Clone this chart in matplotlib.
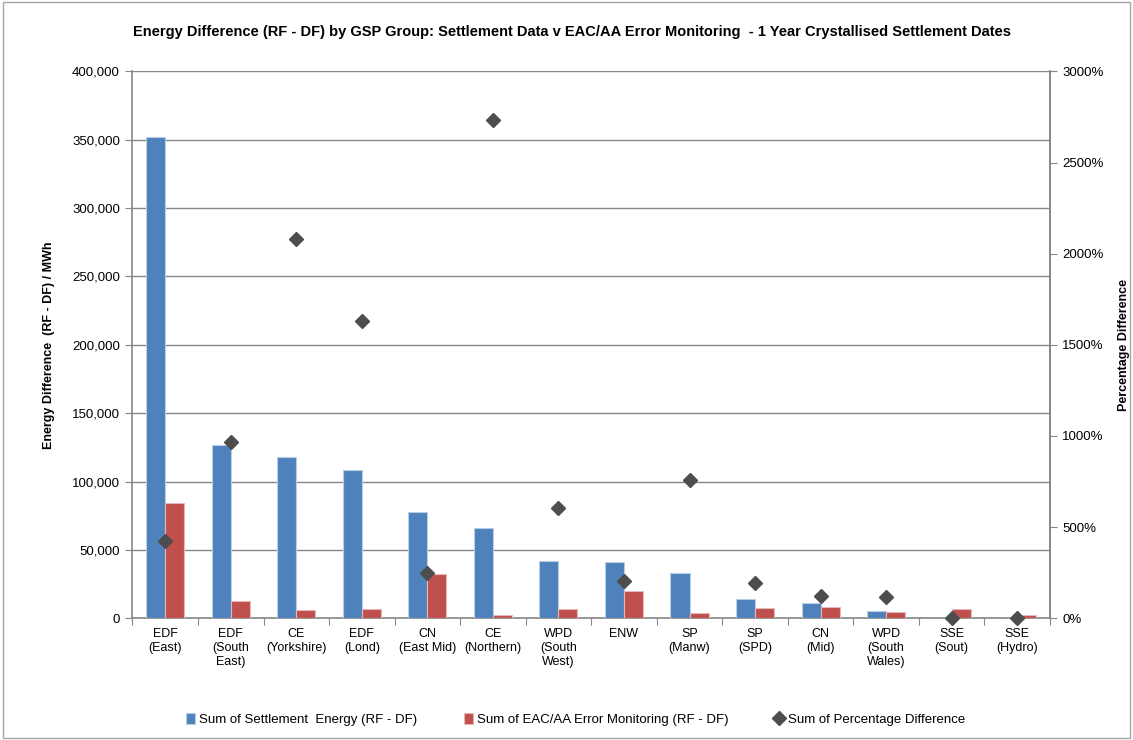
import matplotlib
matplotlib.use("Agg")
from matplotlib import pyplot as plt
from matplotlib.ticker import FuncFormatter, FixedLocator
from matplotlib.patches import Rectangle
import numpy as np

# 数据
groups = ["EDF\n(East)", "EDF\n(South\nEast)", "CE\n(Yorkshire)", "EDF\n(Lond)",
          "CN\n(East Mid)", "CE\n(Northern)", "WPD\n(South\nWest)", "ENW",
          "SP\n(Manw)", "SP\n(SPD)", "CN\n(Mid)", "WPD\n(South\nWales)",
          "SSE\n(Sout)", "SSE\n(Hydro)"]
settlement = [352000, 126500, 118000, 108700, 77500, 65800, 42200, 41200,
              32900, 14100, 11000, 5100, 0, 0]
eac_aa = [84300, 12700, 5900, 6600, 32200, 2400, 6600, 20300,
          4200, 7300, 8300, 4400, 6600, 2200]
pct_diff = [422, 967, 2079, 1629, 247, 2731, 605, 203, 759, 192, 122, 117, 0, 0]

plt.rcParams['font.family'] = ['Liberation Sans', 'DejaVu Sans']

fig = plt.figure(figsize=(11.33, 7.4), dpi=100)
fig.patches.append(Rectangle((0.003, 0.003), 0.994, 0.994, transform=fig.transFigure,
                             fill=False, edgecolor='#a6a6a6', linewidth=1))
ax = fig.add_axes([0.1169, 0.1645, 0.8098, 0.7390])

grid_c = '#868686'
xs = np.arange(len(groups))
w = 0.29
ax.bar(xs - w / 2, settlement, w, color='#4F81BD', edgecolor='#b9cde5', linewidth=0.8,
       label='Sum of Settlement  Energy (RF - DF)', zorder=3)
ax.bar(xs + w / 2, eac_aa, w, color='#C0504D', edgecolor='#e6b9b8', linewidth=0.8,
       label='Sum of EAC/AA Error Monitoring (RF - DF)', zorder=3)

ax.set_xlim(-0.5, len(groups) - 0.5)
ax.set_ylim(0, 400000)
ax.set_yticks(range(0, 400001, 50000))
ax.yaxis.set_major_formatter(FuncFormatter(lambda v, p: '{:,.0f}'.format(v)))
ax.grid(axis='y', color=grid_c, linewidth=1, zorder=0)
ax.set_axisbelow(True)

# x轴：刻度在类别之间，标签在中间
ax.xaxis.set_major_locator(FixedLocator(np.arange(-0.5, len(groups), 1)))
ax.xaxis.set_major_formatter(FuncFormatter(lambda v, p: ''))
ax.set_xticks(xs, groups, minor=True)
ax.tick_params(axis='x', which='major', direction='out', length=5, color=grid_c)
ax.tick_params(axis='x', which='minor', length=0, pad=7, labelsize=9)
ax.tick_params(axis='y', direction='out', length=5, color=grid_c, labelsize=9.5, pad=4)

ax.spines['top'].set_visible(False)
for s in ['left', 'bottom', 'right']:
    ax.spines[s].set_color(grid_c)
    ax.spines[s].set_linewidth(1.2)

ax.set_ylabel("Energy Difference  (RF - DF) / MWh", fontsize=9, fontweight='bold', labelpad=12)

ax2 = ax.twinx()
ax2.plot(xs, pct_diff, linestyle='none', marker='D', markersize=7.5, color='#4D4D4D',
         label='Sum of Percentage Difference', clip_on=False, zorder=4)
ax2.set_ylim(0, 3000)
ax2.set_yticks(range(0, 3001, 500))
ax2.yaxis.set_major_formatter(FuncFormatter(lambda v, p: '{:.0f}%'.format(v)))
ax2.tick_params(axis='y', direction='out', length=5, color=grid_c, labelsize=9.5, pad=4)
for s in ['top', 'left', 'bottom']:
    ax2.spines[s].set_visible(False)
ax2.spines['right'].set_color(grid_c)
ax2.spines['right'].set_linewidth(1.2)
ax2.set_ylabel("Percentage Difference", fontsize=9, fontweight='bold', labelpad=10)

fig.suptitle("Energy Difference (RF - DF) by GSP Group: Settlement Data v EAC/AA Error Monitoring  - 1 Year Crystallised Settlement Dates",
             x=0.505, y=0.966, fontsize=10.5, fontweight='bold')

h1, l1 = ax.get_legend_handles_labels()
h2, l2 = ax2.get_legend_handles_labels()
fig.legend(h1 + h2, l1 + l2, loc='center', bbox_to_anchor=(0.508, 0.028), ncol=3,
           frameon=False, fontsize=9.5, handlelength=0.7, handleheight=0.9,
           handletextpad=0.3, columnspacing=3.5)

plt.savefig('out.png', dpi=100)
